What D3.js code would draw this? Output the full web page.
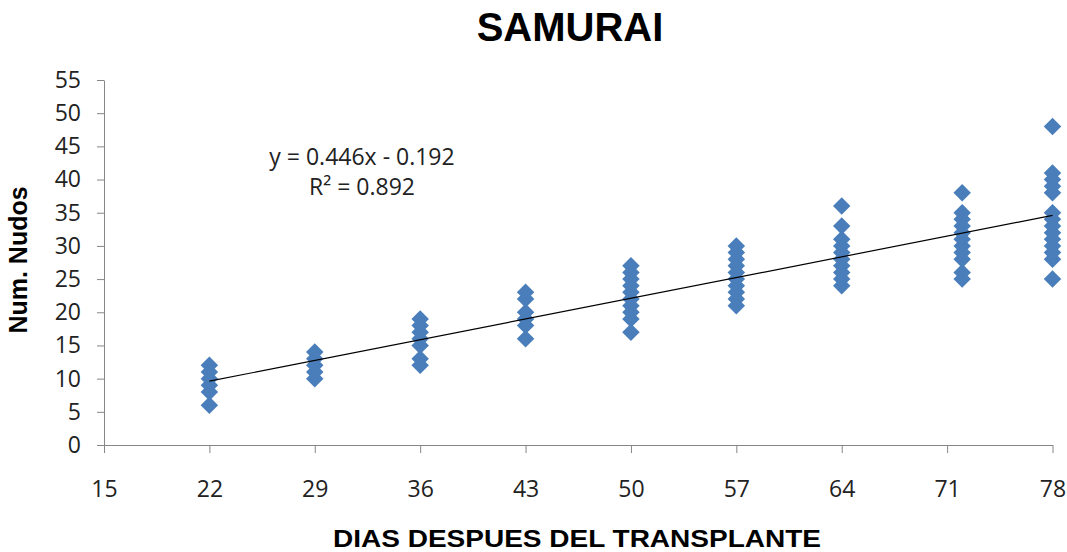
<!DOCTYPE html>
<html>
<head>
<meta charset="utf-8">
<title>SAMURAI</title>
<script src="https://d3js.org/d3.v7.min.js"></script>
<style>
body { margin: 0; background: #fff; }
.axis path, .axis line { stroke: #868686; }
.axis text { font-family: "Open Sans", "Liberation Sans", sans-serif; font-size: 23px; fill: #222; }
</style>
</head>
<body>
<script>
// days after transplant and the node counts observed on each
var dias = [22, 29, 36, 43, 50, 57, 64, 72, 78];
var nudos = [
  [6, 8, 9, 10, 11, 12],
  [10, 11, 12, 13, 14],
  [12, 13, 15, 16, 17, 18, 19],
  [16, 18, 19, 20, 22, 23],
  [17, 19, 20, 21, 22, 23, 24, 25, 26, 27],
  [21, 22, 23, 24, 25, 26, 27, 28, 29, 30],
  [24, 25, 26, 27, 28, 29, 30, 31, 33, 36],
  [25, 26, 28, 29, 30, 31, 32, 33, 34, 35, 38],
  [25, 28, 29, 30, 31, 32, 33, 34, 35, 38, 39, 40, 41, 48]
];
var xTicks = [15, 22, 29, 36, 43, 50, 57, 64, 71, 78];
var yTicks = [0, 5, 10, 15, 20, 25, 30, 35, 40, 45, 50, 55];
var slope = 0.446, intercept = -0.192;

var width = 1067, height = 552;
var svg = d3.select("body").append("svg")
    .attr("width", width)
    .attr("height", height);

var x = d3.scaleLinear().domain([15, 78]).range([104, 1052.5]);
var y = d3.scaleLinear().domain([0, 55]).range([445, 80]);

svg.append("g")
    .attr("class", "axis")
    .attr("transform", "translate(0,445)")
    .call(d3.axisBottom(x).tickValues(xTicks).tickSize(8).tickSizeOuter(0).tickPadding(28));

svg.append("g")
    .attr("class", "axis")
    .attr("transform", "translate(104,0)")
    .call(d3.axisLeft(y).tickValues(yTicks).tickSize(7).tickSizeOuter(0).tickPadding(16));

// points
var pts = [];
dias.forEach(function(d, i) {
  nudos[i].forEach(function(v) { pts.push([d, v]); });
});
svg.append("g").selectAll("path.pt")
    .data(pts)
  .enter().append("path")
    .attr("class", "pt")
    .attr("d", d3.symbol().type(d3.symbolDiamond2).size(195))
    .attr("transform", function(d) { return "translate(" + x(d[0]) + "," + y(d[1]) + ")"; })
    .attr("fill", "#4a7ebb");

// trend line
svg.append("line")
    .attr("x1", x(22)).attr("y1", y(slope * 22 + intercept))
    .attr("x2", x(78)).attr("y2", y(slope * 78 + intercept))
    .attr("stroke", "#000")
    .attr("stroke-width", 1.2);

var eq = svg.append("text")
    .attr("text-anchor", "middle")
    .style("font-family", "'Open Sans', 'Liberation Sans', sans-serif")
    .style("font-size", "23px")
    .attr("fill", "#222");
eq.append("tspan").attr("x", 362).attr("y", 165).text("y = 0.446x - 0.192");
eq.append("tspan").attr("x", 362).attr("y", 195).text("R² = 0.892");

svg.append("text")
    .attr("x", 570).attr("y", 41)
    .attr("text-anchor", "middle")
    .style("font-family", "'Liberation Sans', Arial, sans-serif")
    .style("font-weight", "bold")
    .style("font-size", "40px")
    .text("SAMURAI");

svg.append("text")
    .attr("transform", "translate(27,260) rotate(-90)")
    .attr("text-anchor", "middle")
    .style("font-family", "'Liberation Sans', Arial, sans-serif")
    .style("font-weight", "bold")
    .style("font-size", "25px")
    .text("Num. Nudos");

svg.append("text")
    .attr("x", 577).attr("y", 547)
    .attr("text-anchor", "middle")
    .style("font-family", "'Liberation Sans', Arial, sans-serif")
    .style("font-weight", "bold")
    .style("font-size", "23px")
    .attr("textLength", 488)
    .attr("lengthAdjust", "spacingAndGlyphs")
    .text("DIAS DESPUES DEL TRANSPLANTE");
</script>
</body>
</html>
